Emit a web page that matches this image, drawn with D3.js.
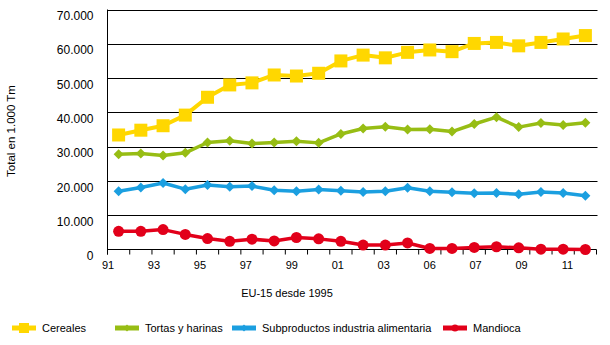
<!DOCTYPE html>
<html>
<head>
<meta charset="utf-8">
<script src="https://cdn.jsdelivr.net/npm/d3@7"></script>
<style>
  body { margin: 0; background: #fff; }
  svg { display: block; font-family: "Liberation Sans", Arial, sans-serif; }
</style>
</head>
<body>
<div id="chart"></div>
<script>
"use strict";

// campañas 1991 - 2012, miles de toneladas
var years = ["1991", "1992", "1993", "1994", "1995", "1996", "1997", "1998", "1999", "2000", "2001",
             "2002", "2003", "2004", "2005", "2006", "2007", "2008", "2009", "2010", "2011", "2012"];
var yearLabels = ["91", "93", "95", "97", "99", "01", "03", "06", "07", "09", "11"];
var yTicks = [0, 10000, 20000, 30000, 40000, 50000, 60000, 70000];

var cereales = [33400, 34800, 36100, 39200, 44400, 48000, 48600, 50900, 50600, 51400, 55000,
                56700, 55900, 57500, 58200, 57700, 60100, 60400, 59400, 60400, 61400, 62400];
var tortas = [27800, 28000, 27400, 28200, 31200, 31700, 30900, 31200, 31600, 31100, 33700,
              35300, 35800, 35000, 35100, 34400, 36600, 38600, 35700, 36900, 36300, 37000];
var subproductos = [17000, 18100, 19400, 17600, 18800, 18300, 18500, 17300, 17000, 17500, 17100,
                    16800, 17000, 18000, 17000, 16700, 16400, 16500, 16100, 16800, 16500, 15700];
var mandioca = [5300, 5300, 5800, 4400, 3200, 2400, 3000, 2500, 3500, 3100, 2400,
                1300, 1300, 1900, 300, 300, 600, 800, 500, 100, 100, 0];

var series = [
    { name: "Cereales", values: cereales, color: "#ffd700", marker: "square", width: 4 },
    { name: "Tortas y harinas", values: tortas, color: "#97bd14", marker: "diamond", width: 3.5 },
    { name: "Subproductos industria alimentaria", values: subproductos, color: "#1b9fe0", marker: "diamond", width: 3.5 },
    { name: "Mandioca", values: mandioca, color: "#e2001a", marker: "circle", width: 3.5 }
];

var width = 610, height = 345;
var plotLeft = 107.5, plotRight = 596.5, plotTop = 9.5, plotBottom = 249.5;

var svg = d3.select("#chart")
    .append("svg")
    .attr("width", width)
    .attr("height", height);

var x = d3.scaleBand().domain(years).range([plotLeft, plotRight]).padding(0);
var xLab = d3.scalePoint().domain(yearLabels).range([plotLeft, 567]);
var y = d3.scaleLinear().domain([0, 70000]).range([plotBottom, plotTop]);

// horizontal grid
svg.append("g")
    .selectAll("line")
    .data(yTicks.slice(1))
    .enter()
    .append("line")
    .attr("x1", plotLeft)
    .attr("x2", plotRight + 1)
    .attr("y1", function (d) { return Math.round(y(d)) + 0.5; })
    .attr("y2", function (d) { return Math.round(y(d)) + 0.5; })
    .attr("stroke", "#000")
    .attr("stroke-width", 1);

// y axis
var yAxis = svg.append("g")
    .attr("transform", "translate(" + plotLeft + ",0)")
    .call(d3.axisLeft(y)
        .tickValues(yTicks)
        .tickSize(0)
        .tickPadding(14)
        .tickFormat(function (d) { return d3.format(",")(d).replace(/,/g, "."); }));
yAxis.select(".domain").attr("stroke", "#000").attr("d", "M0," + plotTop + "V" + (plotBottom + 5));
yAxis.selectAll("text")
    .attr("font-size", "12px")
    .attr("fill", "#000")
    .attr("font-family", "Liberation Sans, Arial, sans-serif")
    .attr("dy", "0.85em");

// x axis: tick marks on category boundaries
var xAxis = svg.append("g")
    .attr("transform", "translate(0," + plotBottom + ")");
xAxis.append("line")
    .attr("x1", plotLeft).attr("x2", plotRight)
    .attr("stroke", "#000");
xAxis.selectAll("line.tick")
    .data(years.concat(["end"]))
    .enter()
    .append("line")
    .attr("class", "tick")
    .attr("x1", function (d, i) { return i < years.length ? x(d) : plotRight; })
    .attr("x2", function (d, i) { return i < years.length ? x(d) : plotRight; })
    .attr("y1", 0)
    .attr("y2", 5)
    .attr("stroke", "#000");

var labAxis = svg.append("g")
    .attr("transform", "translate(0," + plotBottom + ")")
    .call(d3.axisBottom(xLab).tickSize(0).tickPadding(12));
labAxis.select(".domain").remove();
labAxis.selectAll("text")
    .attr("font-size", "11px")
    .attr("fill", "#000")
    .attr("font-family", "Liberation Sans, Arial, sans-serif");

// axis titles
svg.append("text")
    .attr("x", 287)
    .attr("y", 297)
    .attr("text-anchor", "middle")
    .attr("font-size", "11px")
    .text("EU-15 desde 1995");

svg.append("text")
    .attr("transform", "translate(15,131) rotate(-90)")
    .attr("text-anchor", "middle")
    .attr("font-size", "11.5px")
    .text("Total en 1.000 Tm");

function drawMarker(g, type, color, size) {
    if (type === "square") {
        g.append("rect")
            .attr("x", -size / 2).attr("y", -size / 2)
            .attr("width", size).attr("height", size)
            .attr("fill", color);
    } else if (type === "diamond") {
        g.append("path")
            .attr("d", "M0," + (-size / 2) + "L" + (size / 2) + ",0L0," + (size / 2) + "L" + (-size / 2) + ",0Z")
            .attr("fill", color);
    } else {
        g.append("circle").attr("r", size / 2).attr("fill", color);
    }
}

var markerSize = { square: 13, diamond: 10, circle: 11 };

var line = d3.line()
    .x(function (d, i) { return x(years[i]) + x.bandwidth() / 2; })
    .y(function (d) { return y(d); });

series.slice().reverse().forEach(function (s) {
    var g = svg.append("g");
    g.append("path")
        .datum(s.values)
        .attr("d", line)
        .attr("fill", "none")
        .attr("stroke", s.color)
        .attr("stroke-width", s.width)
        .attr("stroke-linejoin", "round");
    g.selectAll("g.pt")
        .data(s.values)
        .enter()
        .append("g")
        .attr("class", "pt")
        .attr("transform", function (d, i) {
            return "translate(" + (x(years[i]) + x.bandwidth() / 2) + "," + y(d) + ")";
        })
        .each(function () { drawMarker(d3.select(this), s.marker, s.color, markerSize[s.marker]); });
});

// legend
var legendX = [12, 115, 232, 443];
var legend = svg.append("g");
series.forEach(function (s, i) {
    var item = legend.append("g").attr("transform", "translate(" + legendX[i] + ",328)");
    item.append("line")
        .attr("x1", 0).attr("x2", 24)
        .attr("stroke", s.color)
        .attr("stroke-width", 5);
    var m = item.append("g").attr("transform", "translate(12,0)");
    drawMarker(m, s.marker, s.color, s.marker === "square" ? 10 : 7);
    item.append("text")
        .attr("x", 30)
        .attr("y", 0)
        .attr("dy", "0.35em")
        .attr("font-size", "11px")
        .text(s.name);
});
</script>
</body>
</html>
